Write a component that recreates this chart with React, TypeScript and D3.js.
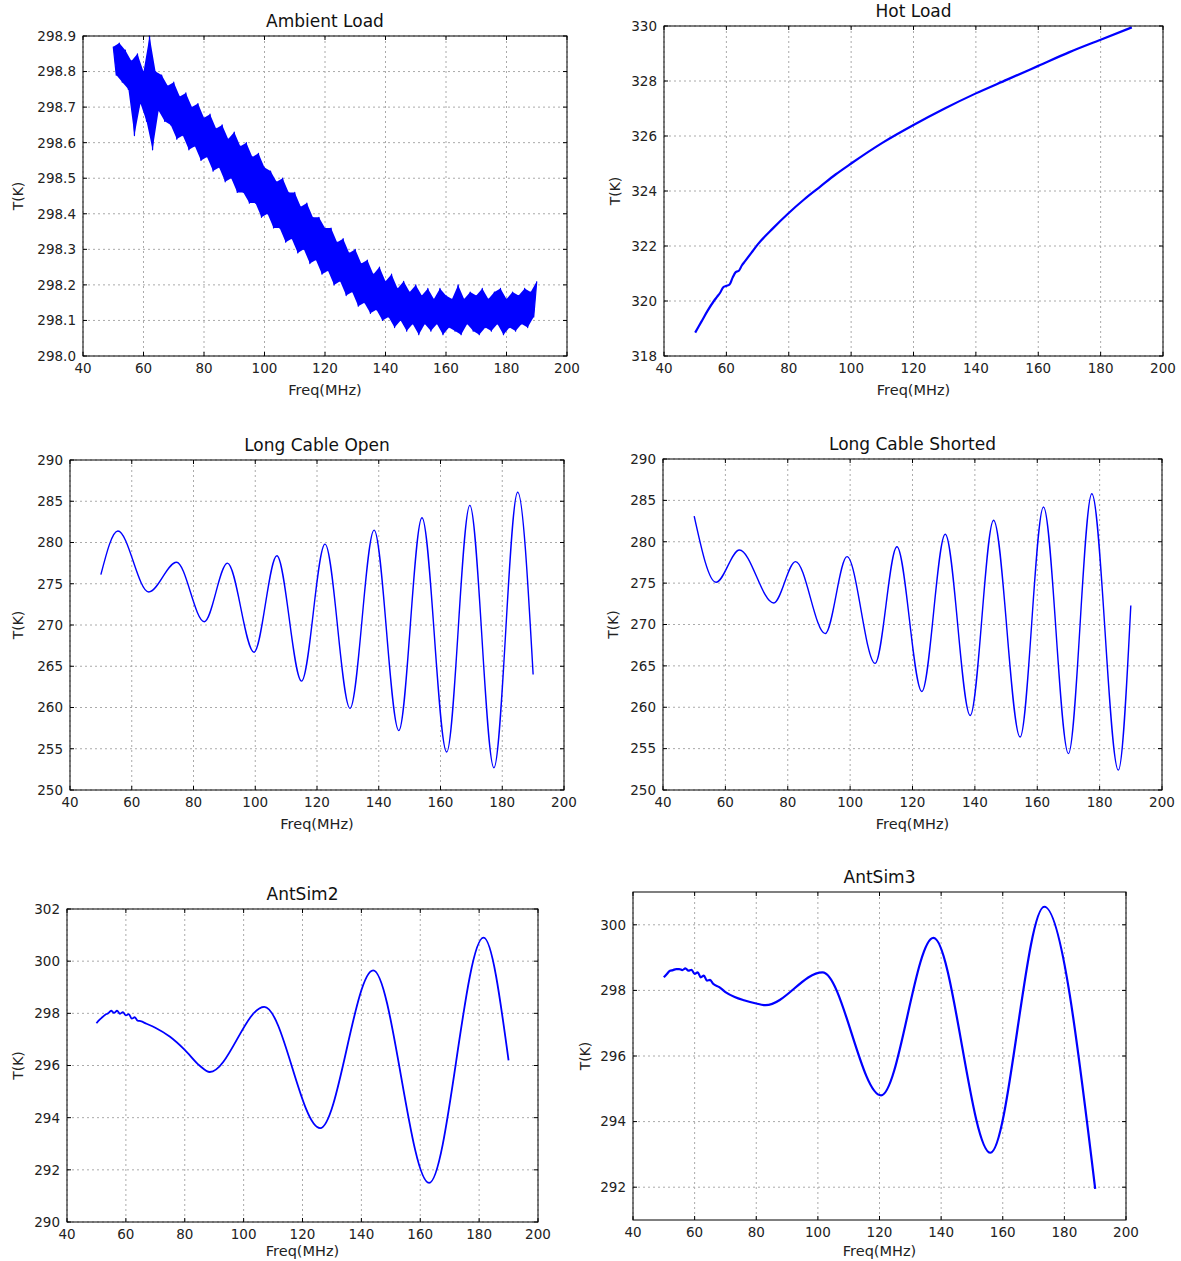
import React from "react";
import * as d3 from "d3";

// ---------- DATA ----------
const freqTicks = [40, 60, 80, 100, 120, 140, 160, 180, 200];

// Ambient Load: noisy band, read as upper (even MHz) and lower (odd MHz) envelope
const ambientHiFreq = d3.range(50, 191, 2);
const ambientHi = [
  298.87, 298.88, 298.86, 298.83, 298.85, 298.8, 298.9, 298.8, 298.79, 298.76,
  298.77, 298.73, 298.74, 298.7, 298.71, 298.67, 298.68, 298.64, 298.65, 298.61,
  298.63, 298.59, 298.6, 298.56, 298.57, 298.53, 298.52, 298.49, 298.5, 298.46,
  298.46, 298.42, 298.43, 298.39, 298.39, 298.36, 298.36, 298.32, 298.33, 298.29,
  298.3, 298.26, 298.27, 298.23, 298.25, 298.21, 298.23, 298.19, 298.21, 298.18,
  298.2, 298.17, 298.19, 298.16, 298.19, 298.17, 298.16, 298.2, 298.16, 298.18,
  298.17, 298.19, 298.16, 298.18, 298.19, 298.16, 298.18, 298.17, 298.19, 298.18,
  298.21,
];
const ambientLoFreq = d3.range(51, 190, 2);
const ambientLo = [
  298.79, 298.77, 298.75, 298.62, 298.71, 298.66, 298.58, 298.69, 298.66, 298.65,
  298.61, 298.62, 298.58, 298.59, 298.55, 298.56, 298.52, 298.53, 298.49, 298.5,
  298.46, 298.46, 298.43, 298.43, 298.39, 298.4, 298.36, 298.36, 298.32, 298.33,
  298.29, 298.3, 298.26, 298.27, 298.23, 298.24, 298.2, 298.21, 298.17, 298.18,
  298.14, 298.15, 298.12, 298.13, 298.1, 298.11, 298.08, 298.1, 298.07, 298.09,
  298.06, 298.09, 298.07, 298.09, 298.06, 298.08, 298.07, 298.06, 298.09, 298.07,
  298.06, 298.08, 298.07, 298.09, 298.06, 298.08, 298.07, 298.09, 298.08, 298.11,
];
const ambientTicks = [298.0, 298.1, 298.2, 298.3, 298.4, 298.5, 298.6, 298.7, 298.8, 298.9];

// Hot Load
const hotFreq = [50, 52, 54, 56, 57, 58, 59, 60, 61, 62, 63, 64, 65, 66, 68, 70, 75, 80, 85, 90, 95, 100, 110, 120, 130, 140, 150, 160, 170, 180, 190];
const hotTemp = [318.85, 319.25, 319.65, 320.0, 320.15, 320.3, 320.5, 320.55, 320.6, 320.85, 321.05, 321.1, 321.3, 321.45, 321.75, 322.05, 322.65, 323.2, 323.7, 324.15, 324.6, 325.0, 325.75, 326.4, 327.0, 327.55, 328.05, 328.55, 329.05, 329.5, 329.95];
const hotTicks = [318, 320, 322, 324, 326, 328, 330];

// Long Cable Open
const openFreq = [50, 55.5, 65.5, 74.5, 83.5, 91, 99.6, 107, 115, 122.6, 130.7, 138.5, 146.5, 154, 162, 169.5, 177.3, 185, 190];
const openTemp = [276.1, 281.4, 274.0, 277.6, 270.4, 277.5, 266.7, 278.4, 263.2, 279.8, 259.9, 281.5, 257.2, 283.0, 254.6, 284.5, 252.7, 286.1, 264.0];
const cableTicks = [250, 255, 260, 265, 270, 275, 280, 285, 290];

// Long Cable Shorted
const shortFreq = [50, 57, 64.5, 75.5, 82.5, 92, 99, 108, 115, 123, 130.5, 138.5, 146, 154.5, 162, 170, 177.5, 186, 190];
const shortTemp = [283.1, 275.1, 279.0, 272.6, 277.6, 268.9, 278.2, 265.3, 279.4, 261.9, 280.9, 259.0, 282.6, 256.4, 284.2, 254.4, 285.8, 252.4, 272.3];

// AntSim2
const sim2Freq = [50, 51, 52, 53, 54, 55, 56, 57, 58, 59, 60, 61, 62, 63, 64, 65, 67, 70, 75, 80, 85, 88.5, 107, 126, 144, 163, 181.5, 190];
const sim2Temp = [297.62, 297.75, 297.85, 297.95, 298.0, 298.1, 298.02, 298.1, 297.98, 298.05, 297.92, 297.97, 297.8, 297.85, 297.72, 297.7, 297.6, 297.45, 297.1, 296.6, 296.0, 295.75, 298.25, 293.6, 299.65, 291.5, 300.9, 296.2];
const sim2Ticks = [290, 292, 294, 296, 298, 300, 302];

// AntSim3
const sim3Freq = [50, 51, 52, 53, 54, 55, 56, 57, 58, 59, 60, 61, 62, 63, 64, 65, 66, 68, 70, 73, 76, 80, 83, 101.5, 120.5, 137.5, 156, 173.5, 190];
const sim3Temp = [298.4, 298.5, 298.6, 298.62, 298.65, 298.65, 298.62, 298.67, 298.6, 298.63, 298.5, 298.55, 298.4, 298.45, 298.3, 298.32, 298.2, 298.1, 297.95, 297.8, 297.7, 297.6, 297.55, 298.55, 294.8, 299.6, 293.05, 300.55, 291.95];
const sim3Ticks = [292, 294, 296, 298, 300];

// ---------- COMPONENTS ----------
const FONT = "'DejaVu Sans', sans-serif";
const BLUE = "#0000ff";

type Band = { hiX: number[]; hi: number[]; loX: number[]; lo: number[] };

type PanelProps = {
  box: [number, number, number, number]; // x0, y0, x1, y1
  yDomain: [number, number];
  yTicks: number[];
  yFmt: (v: number) => string;
  title: string;
  ylabelX: number;
  xlabelDy: number;
  xs: number[];
  ys: number[];
  curve: d3.CurveFactory;
  width: number;
  band?: Band;
};

function Panel(p: PanelProps) {
  const [x0, y0, x1, y1] = p.box;
  const x = d3.scaleLinear().domain([40, 200]).range([x0, x1]);
  const y = d3.scaleLinear().domain(p.yDomain).range([y1, y0]);
  const pts: [number, number][] = p.xs.map((f, i) => [f, p.ys[i]]);
  const line = d3
    .line<[number, number]>()
    .x((d) => x(d[0]))
    .y((d) => y(d[1]))
    .curve(p.curve);
  let bandPath = "";
  if (p.band) {
    const b = p.band;
    const poly: [number, number][] = [
      ...b.hiX.map((f, i) => [f, b.hi[i]] as [number, number]),
      ...b.loX.map((f, i) => [f, b.lo[i]] as [number, number]).reverse(),
    ];
    bandPath = (d3.line<[number, number]>().x((d) => x(d[0])).y((d) => y(d[1]))(poly) || "") + "Z";
  }
  const tl = 4;
  const grid = "#aaa";
  return (
    <g>
      {freqTicks.map((t) => (
        <line key={"gx" + t} x1={x(t)} x2={x(t)} y1={y0} y2={y1} stroke={grid} strokeWidth={1} strokeDasharray="2,3" />
      ))}
      {p.yTicks.map((t) => (
        <line key={"gy" + t} x1={x0} x2={x1} y1={y(t)} y2={y(t)} stroke={grid} strokeWidth={1} strokeDasharray="2,3" />
      ))}
      {p.band && <path d={bandPath} fill={BLUE} stroke="none" />}
      <path d={line(pts) || ""} fill="none" stroke={BLUE} strokeWidth={p.width} strokeLinejoin="round" />
      {freqTicks.map((t) => (
        <g key={"tx" + t}>
          <line x1={x(t)} x2={x(t)} y1={y1} y2={y1 - tl} stroke="#000" />
          <line x1={x(t)} x2={x(t)} y1={y0} y2={y0 + tl} stroke="#000" />
          <text x={x(t)} y={y1 + 17} textAnchor="middle" fontSize={13.5} fontFamily={FONT} fill="#222">
            {t}
          </text>
        </g>
      ))}
      {p.yTicks.map((t) => (
        <g key={"ty" + t}>
          <line x1={x0} x2={x0 + tl} y1={y(t)} y2={y(t)} stroke="#000" />
          <line x1={x1} x2={x1 - tl} y1={y(t)} y2={y(t)} stroke="#000" />
          <text x={x0 - 7} y={y(t)} dy="0.36em" textAnchor="end" fontSize={13.5} fontFamily={FONT} fill="#222">
            {p.yFmt(t)}
          </text>
        </g>
      ))}
      <rect x={x0} y={y0} width={x1 - x0} height={y1 - y0} fill="none" stroke="#000" strokeWidth={1} />
      <text x={(x0 + x1) / 2} y={y0 - 9} textAnchor="middle" fontSize={17} fontFamily={FONT} fill="#111">
        {p.title}
      </text>
      <text x={(x0 + x1) / 2} y={y1 + p.xlabelDy} textAnchor="middle" fontSize={14.5} fontFamily={FONT} fill="#222">
        Freq(MHz)
      </text>
      <text
        transform={`translate(${p.ylabelX},${(y0 + y1) / 2}) rotate(-90)`}
        textAnchor="middle"
        dy="0.36em"
        fontSize={14}
        fontFamily={FONT}
        fill="#222"
      >
        T(K)
      </text>
    </g>
  );
}

export default function App() {
  const ambXs: number[] = [];
  const ambYs: number[] = [];
  ambientHiFreq.forEach((f, i) => {
    ambXs.push(f);
    ambYs.push(ambientHi[i]);
    if (i < ambientLoFreq.length) {
      ambXs.push(ambientLoFreq[i]);
      ambYs.push(ambientLo[i]);
    }
  });
  const band: Band = { hiX: ambientHiFreq, hi: ambientHi, loX: ambientLoFreq, lo: ambientLo };
  const intFmt = (v: number) => d3.format("d")(v);
  return (
    <svg width={1181} height={1261} style={{ position: "absolute", left: 0, top: 0, background: "#fff" }}>
      <rect width={1181} height={1261} fill="#fff" />
      <Panel box={[83, 36, 567, 356]} yDomain={[298.0, 298.9]} yTicks={ambientTicks} yFmt={d3.format(".1f")} title="Ambient Load" ylabelX={18} xlabelDy={39} xs={ambXs} ys={ambYs} curve={d3.curveLinear} width={1.2} band={band} />
      <Panel box={[664, 26, 1163, 356]} yDomain={[318, 330]} yTicks={hotTicks} yFmt={intFmt} title="Hot Load" ylabelX={615} xlabelDy={39} xs={hotFreq} ys={hotTemp} curve={d3.curveMonotoneX} width={2.2} />
      <Panel box={[70, 460, 564, 790]} yDomain={[250, 290]} yTicks={cableTicks} yFmt={intFmt} title="Long Cable Open" ylabelX={18} xlabelDy={39} xs={openFreq} ys={openTemp} curve={d3.curveMonotoneX} width={1.4} />
      <Panel box={[663, 459, 1162, 790]} yDomain={[250, 290]} yTicks={cableTicks} yFmt={intFmt} title="Long Cable Shorted" ylabelX={613} xlabelDy={39} xs={shortFreq} ys={shortTemp} curve={d3.curveMonotoneX} width={1.4} />
      <Panel box={[67, 909, 538, 1222]} yDomain={[290, 302]} yTicks={sim2Ticks} yFmt={intFmt} title="AntSim2" ylabelX={18} xlabelDy={34} xs={sim2Freq} ys={sim2Temp} curve={d3.curveMonotoneX} width={1.8} />
      <Panel box={[633, 892, 1126, 1220]} yDomain={[291, 301]} yTicks={sim3Ticks} yFmt={intFmt} title="AntSim3" ylabelX={585} xlabelDy={36} xs={sim3Freq} ys={sim3Temp} curve={d3.curveMonotoneX} width={2.2} />
    </svg>
  );
}
